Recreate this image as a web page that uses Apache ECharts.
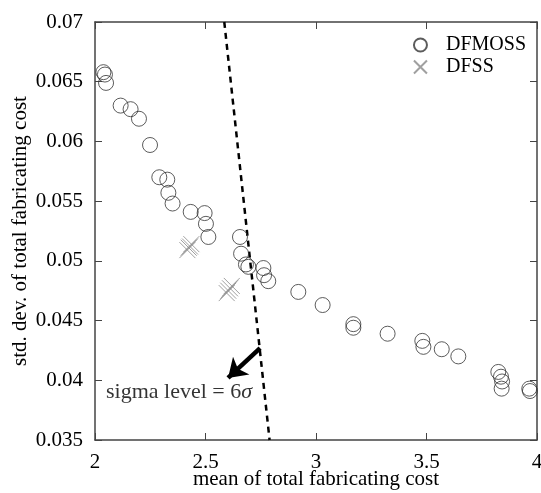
<!DOCTYPE html>
<html>
<head>
<meta charset="utf-8">
<script src="https://cdn.jsdelivr.net/npm/echarts@6/dist/echarts.min.js"></script>
<style>
  html, body { margin: 0; padding: 0; background: #fff; }
  #chart { width: 541px; height: 493px; }
</style>
</head>
<body>
<div id="chart"></div>
<script>
const dfmossMean = [2.038, 2.045, 2.05, 2.116, 2.161, 2.199, 2.249, 2.291, 2.327, 2.332, 2.351,
  2.433, 2.496, 2.502, 2.513, 2.656, 2.661, 2.683, 2.694, 2.762, 2.765, 2.784, 2.92, 3.03,
  3.169, 3.169, 3.324, 3.481, 3.486, 3.569, 3.644, 3.825, 3.837, 3.842, 3.84, 3.965, 3.968];
const dfmossStd = [0.0658, 0.0656, 0.0649, 0.063, 0.0627, 0.0619, 0.0597, 0.057, 0.0568, 0.0557, 0.0548,
  0.0541, 0.054, 0.0531, 0.052, 0.052, 0.0506, 0.0497, 0.0495, 0.0494, 0.0488, 0.0483, 0.0474, 0.0463,
  0.0447, 0.0444, 0.0439, 0.0433, 0.0428, 0.0426, 0.042, 0.0407, 0.0403, 0.0399, 0.0393, 0.0393, 0.0391];

const dfssMean = [2.418, 2.424, 2.43, 2.436, 2.596, 2.603, 2.611, 2.619];
const dfssStd = [0.0509, 0.0511, 0.0512, 0.0514, 0.0473, 0.0475, 0.0477, 0.0479];

// 6 sigma boundary and the arrow pointing at it
const sigmaMean = [2.585, 2.79];
const sigmaStd = [0.07, 0.035];
const arrowMean = [2.747, 2.602];
const arrowStd = [0.0427, 0.0402];
const sigmaLabelAt = [2.05, 0.039];

const xTicks = { min: 2, max: 4, interval: 0.5 };
const yTicks = { min: 0.035, max: 0.07, interval: 0.005 };

const font = 'Liberation Serif';
const crossPath = 'path://M0,0L10,10M10,0L0,10';

const zip = (xs, ys) => xs.map((x, i) => [x, ys[i]]);

const axisLine = { show: true, lineStyle: { color: '#444', width: 1.5 } };
const axisTick = { show: true, inside: true, length: 7, lineStyle: { color: '#444', width: 1 } };

const chart = echarts.init(document.getElementById('chart'));
chart.setOption({
  animation: false,
  textStyle: { fontFamily: font },
  grid: { left: 95, right: 4, top: 22, bottom: 53, outerBoundsMode: 'none', containLabel: false },
  legend: {
    orient: 'vertical',
    right: 10,
    top: 30,
    itemGap: 2,
    itemWidth: 13,
    itemHeight: 13,
    textStyle: { fontFamily: font, fontSize: 20, color: '#000', padding: [0, 0, 0, 14] },
    data: [
      { name: 'DFMOSS', icon: 'circle' },
      { name: 'DFSS', icon: crossPath },
    ],
  },
  xAxis: [
    {
      type: 'value',
      ...xTicks,
      name: 'mean of total fabricating cost',
      nameLocation: 'middle',
      nameGap: 29,
      nameMoveOverlap: false,
      nameTextStyle: { fontFamily: font, fontSize: 21, color: '#000' },
      axisLine,
      axisTick,
      splitLine: { show: false },
      axisLabel: { fontFamily: font, fontSize: 21, color: '#000', margin: 12 },
    },
    {
      type: 'value',
      position: 'top',
      ...xTicks,
      axisLine,
      axisTick,
      splitLine: { show: false },
      axisLabel: { show: false },
    },
  ],
  yAxis: [
    {
      type: 'value',
      ...yTicks,
      name: 'std. dev. of total fabricating cost',
      nameLocation: 'middle',
      nameGap: 64,
      nameMoveOverlap: false,
      nameTextStyle: { fontFamily: font, fontSize: 21, color: '#000' },
      axisLine,
      axisTick,
      splitLine: { show: false },
      axisLabel: { fontFamily: font, fontSize: 21, color: '#000', margin: 12 },
    },
    {
      type: 'value',
      position: 'right',
      ...yTicks,
      axisLine,
      axisTick,
      splitLine: { show: false },
      axisLabel: { show: false },
    },
  ],
  series: [
    {
      name: 'DFMOSS',
      type: 'scatter',
      symbol: 'circle',
      symbolSize: 15,
      itemStyle: { color: 'rgba(255,255,255,0)', borderColor: '#333', borderWidth: 1 },
      data: zip(dfmossMean, dfmossStd),
      z: 3,
    },
    {
      name: 'DFSS',
      type: 'scatter',
      symbol: crossPath,
      symbolSize: 16,
      itemStyle: { color: 'rgba(255,255,255,0)', borderColor: '#888', borderWidth: 1 },
      data: zip(dfssMean, dfssStd),
      z: 3,
    },
    {
      name: 'sigma',
      type: 'line',
      symbol: 'none',
      silent: true,
      lineStyle: { color: '#000', width: 2.5, type: [6, 5] },
      data: zip(sigmaMean, sigmaStd),
      z: 2,
    },
    {
      name: 'arrow',
      type: 'lines',
      coordinateSystem: 'cartesian2d',
      symbol: ['none', 'arrow'],
      symbolSize: 18,
      lineStyle: { color: '#000', width: 4.5, opacity: 1 },
      data: [{ coords: zip(arrowMean, arrowStd) }],
      z: 4,
    },
    {
      name: 'label',
      type: 'scatter',
      symbolSize: 0,
      silent: true,
      data: [sigmaLabelAt],
      label: {
        show: true,
        position: 'right',
        distance: 0,
        color: '#000',
        formatter: '{a|sigma level = 6}{b|σ}',
        rich: {
          a: { fontFamily: font, fontSize: 22, color: '#000' },
          b: { fontFamily: font, fontSize: 22, color: '#000', fontStyle: 'italic' },
        },
      },
    },
  ],
});
</script>
</body>
</html>
